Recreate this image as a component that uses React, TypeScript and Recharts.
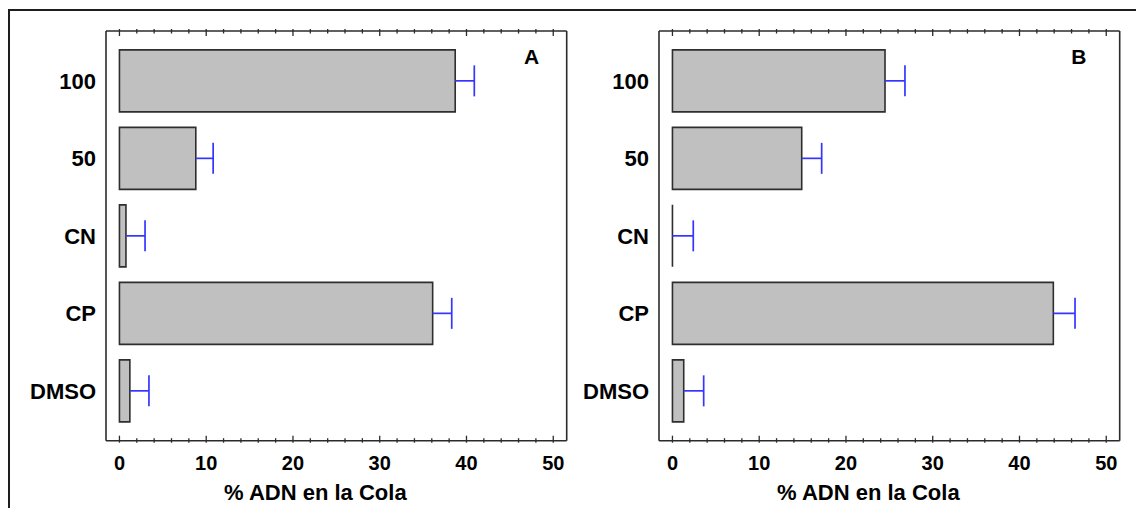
import { BarChart, Bar, XAxis, YAxis } from 'recharts'

const categories = ['100', '50', 'CN', 'CP', 'DMSO']
const meanA = [38.7, 8.8, 0.75, 36.1, 1.2]
const errA = [2.2, 2.0, 2.2, 2.2, 2.2]
const meanB = [24.5, 14.9, 0, 43.9, 1.3]
const errB = [2.3, 2.3, 2.4, 2.5, 2.3]
const xTicks = [0, 2, 4, 6, 8, 10, 12, 14, 16, 18, 20, 22, 24, 26, 28, 30, 32, 34, 36, 38, 40, 42, 44, 46, 48, 50]
const xDomain = [-1.55, 51.55]
const axisTitle = '% ADN en la Cola'

const FONT = '"Liberation Sans", Arial, sans-serif'
const LINE = '#2b2b2b'

function MeanBar(props: any) {
  const { x, y, width, height } = props
  return (
    <path
      d={`M${x},${y}h${width}v${height}h${-width}Z`}
      fill="#c0c0c0"
      stroke="#2e2e2e"
      strokeWidth={1.6}
    />
  )
}

// whisker drawn over the stacked error segment: stem + cap at the far end
function ErrWhisker(props: any) {
  const { x, y, width, height } = props
  const cy = y + height / 2
  const cap = height / 4
  return (
    <g stroke="#3535ff" strokeWidth={1.7}>
      <line x1={x} x2={x + width} y1={cy} y2={cy} />
      <line x1={x + width} x2={x + width} y1={cy - cap} y2={cy + cap} />
    </g>
  )
}

function BottomTick(props: any) {
  const { x, y, payload } = props
  const major = payload.value % 10 === 0
  return (
    <g>
      <line x1={x} x2={x} y1={y} y2={y - (major ? 7 : 4.5)} stroke={LINE} strokeWidth={1.3} />
      {major && (
        <text x={x} y={y + 27} textAnchor="middle" fontFamily={FONT} fontWeight="bold" fontSize={20} fill="#000">
          {payload.value}
        </text>
      )}
    </g>
  )
}

// top edge: same ticks pointing down into the plot, no labels
function TopTick(props: any) {
  const { x, y, payload } = props
  const major = payload.value % 10 === 0
  return <line x1={x} x2={x} y1={y} y2={y + (major ? 7 : 4.5)} stroke={LINE} strokeWidth={1.3} />
}

interface PanelProps {
  means: number[]
  errs: number[]
  letter: string
  left: number
  letterX: number
}

function Panel({ means, errs, letter, left, letterX }: PanelProps) {
  const data = categories.map((name, i) => ({ name, mean: means[i], err: errs[i] }))
  const axisLine = { stroke: LINE, strokeWidth: 1.6 }

  return (
    <div style={{ position: 'absolute', left, top: 0, width: 580, height: 508 }}>
      <BarChart
        width={580}
        height={508}
        data={data}
        layout="vertical"
        margin={{ top: 30, right: 12.3, bottom: 0, left: 0 }}
        barCategoryGap="10%"
      >
        <XAxis
          type="number"
          domain={xDomain}
          ticks={xTicks}
          allowDataOverflow
          interval={0}
          tickSize={0}
          tickLine={false}
          tick={<BottomTick />}
          height={67.3}
          axisLine={axisLine}
          label={{
            value: axisTitle,
            position: 'insideTop',
            offset: 44,
            dx: -21,
            style: { fontFamily: FONT, fontWeight: 'bold', fontSize: 22, fill: '#000' },
          }}
        />
        <XAxis
          xAxisId="top"
          orientation="top"
          type="number"
          domain={xDomain}
          ticks={xTicks}
          allowDataOverflow
          interval={0}
          tickSize={0}
          tickLine={false}
          tick={<TopTick />}
          height={1}
          axisLine={axisLine}
        />
        <YAxis
          type="category"
          dataKey="name"
          width={106}
          tickSize={0}
          tickMargin={10}
          tickLine={false}
          padding={{ top: 11.1, bottom: 11.1 }}
          axisLine={axisLine}
          tick={{ fill: '#000', fontSize: 22, fontWeight: 'bold', fontFamily: FONT }}
        />
        <YAxis
          yAxisId="right"
          orientation="right"
          type="category"
          dataKey="name"
          width={1}
          tick={false}
          tickLine={false}
          axisLine={axisLine}
        />
        <Bar dataKey="mean" stackId="s" shape={MeanBar} isAnimationActive={false} />
        <Bar dataKey="err" stackId="s" shape={ErrWhisker} isAnimationActive={false} />
      </BarChart>
      <div
        style={{
          position: 'absolute',
          left: letterX,
          top: 45.5,
          transform: 'translateX(-50%)',
          fontFamily: FONT,
          fontWeight: 'bold',
          fontSize: 21,
          lineHeight: '21px',
          color: '#000',
        }}
      >
        {letter}
      </div>
    </div>
  )
}

export default function App() {
  return (
    <div
      style={{
        position: 'absolute',
        left: 0,
        top: 0,
        width: 1136,
        height: 508,
        overflow: 'hidden',
        background: '#fff',
      }}
    >
      <div
        style={{
          position: 'absolute',
          left: 8,
          top: 9,
          width: 1200,
          height: 600,
          border: '2px solid #1e1e1e',
        }}
      />
      <Panel means={meanA} errs={errA} letter="A" left={0} letterX={531.7} />
      <Panel means={meanB} errs={errB} letter="B" left={553} letterX={525.8} />
    </div>
  )
}
